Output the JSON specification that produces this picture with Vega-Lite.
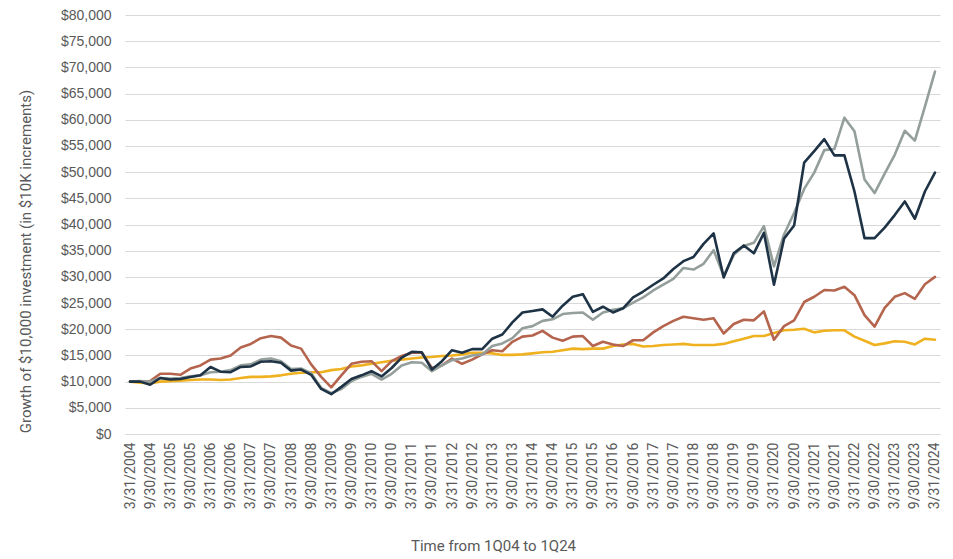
{
  "$schema": "https://vega.github.io/schema/vega-lite/v6.json",
  "width": 815,
  "height": 419,
  "autosize": {"type": "none"},
  "padding": {"left": 125, "top": 15, "right": 13, "bottom": 125},
  "background": "white",
  "datasets": {
    "dates": ["3/31/2004","6/30/2004","9/30/2004","12/31/2004","3/31/2005","6/30/2005","9/30/2005","12/31/2005","3/31/2006","6/30/2006","9/30/2006","12/31/2006","3/31/2007","6/30/2007","9/30/2007","12/31/2007","3/31/2008","6/30/2008","9/30/2008","12/31/2008","3/31/2009","6/30/2009","9/30/2009","12/31/2009","3/31/2010","6/30/2010","9/30/2010","12/31/2010","3/31/2011","6/30/2011","9/30/2011","12/31/2011","3/31/2012","6/30/2012","9/30/2012","12/31/2012","3/31/2013","6/30/2013","9/30/2013","12/31/2013","3/31/2014","6/30/2014","9/30/2014","12/31/2014","3/31/2015","6/30/2015","9/30/2015","12/31/2015","3/31/2016","6/30/2016","9/30/2016","12/31/2016","3/31/2017","6/30/2017","9/30/2017","12/31/2017","3/31/2018","6/30/2018","9/30/2018","12/31/2018","3/31/2019","6/30/2019","9/30/2019","12/31/2019","3/31/2020","6/30/2020","9/30/2020","12/31/2020","3/31/2021","6/30/2021","9/30/2021","12/31/2021","3/31/2022","6/30/2022","9/30/2022","12/31/2022","3/31/2023","6/30/2023","9/30/2023","12/31/2023","3/31/2024"]
  },
  "data": {
    "values": [
      {"date":"3/31/2004","series":"Series 4","value":10000},{"date":"6/30/2004","series":"Series 4","value":9800},{"date":"9/30/2004","series":"Series 4","value":9700},{"date":"12/31/2004","series":"Series 4","value":10000},
      {"date":"3/31/2005","series":"Series 4","value":10100},{"date":"6/30/2005","series":"Series 4","value":10200},{"date":"9/30/2005","series":"Series 4","value":10300},{"date":"12/31/2005","series":"Series 4","value":10400},
      {"date":"3/31/2006","series":"Series 4","value":10400},{"date":"6/30/2006","series":"Series 4","value":10300},{"date":"9/30/2006","series":"Series 4","value":10400},{"date":"12/31/2006","series":"Series 4","value":10700},
      {"date":"3/31/2007","series":"Series 4","value":10900},{"date":"6/30/2007","series":"Series 4","value":10900},{"date":"9/30/2007","series":"Series 4","value":11000},{"date":"12/31/2007","series":"Series 4","value":11200},
      {"date":"3/31/2008","series":"Series 4","value":11500},{"date":"6/30/2008","series":"Series 4","value":11700},{"date":"9/30/2008","series":"Series 4","value":11800},{"date":"12/31/2008","series":"Series 4","value":11800},
      {"date":"3/31/2009","series":"Series 4","value":12200},{"date":"6/30/2009","series":"Series 4","value":12400},{"date":"9/30/2009","series":"Series 4","value":12900},{"date":"12/31/2009","series":"Series 4","value":13100},
      {"date":"3/31/2010","series":"Series 4","value":13400},{"date":"6/30/2010","series":"Series 4","value":13700},{"date":"9/30/2010","series":"Series 4","value":14000},{"date":"12/31/2010","series":"Series 4","value":14200},
      {"date":"3/31/2011","series":"Series 4","value":14400},{"date":"6/30/2011","series":"Series 4","value":14600},{"date":"9/30/2011","series":"Series 4","value":14700},{"date":"12/31/2011","series":"Series 4","value":14900},
      {"date":"3/31/2012","series":"Series 4","value":15000},{"date":"6/30/2012","series":"Series 4","value":15200},{"date":"9/30/2012","series":"Series 4","value":15500},{"date":"12/31/2012","series":"Series 4","value":15500},
      {"date":"3/31/2013","series":"Series 4","value":15400},{"date":"6/30/2013","series":"Series 4","value":15100},{"date":"9/30/2013","series":"Series 4","value":15100},{"date":"12/31/2013","series":"Series 4","value":15200},
      {"date":"3/31/2014","series":"Series 4","value":15400},{"date":"6/30/2014","series":"Series 4","value":15600},{"date":"9/30/2014","series":"Series 4","value":15700},{"date":"12/31/2014","series":"Series 4","value":16000},
      {"date":"3/31/2015","series":"Series 4","value":16300},{"date":"6/30/2015","series":"Series 4","value":16200},{"date":"9/30/2015","series":"Series 4","value":16300},{"date":"12/31/2015","series":"Series 4","value":16300},
      {"date":"3/31/2016","series":"Series 4","value":16800},{"date":"6/30/2016","series":"Series 4","value":17100},{"date":"9/30/2016","series":"Series 4","value":17200},{"date":"12/31/2016","series":"Series 4","value":16700},
      {"date":"3/31/2017","series":"Series 4","value":16800},{"date":"6/30/2017","series":"Series 4","value":17000},{"date":"9/30/2017","series":"Series 4","value":17100},{"date":"12/31/2017","series":"Series 4","value":17200},
      {"date":"3/31/2018","series":"Series 4","value":17000},{"date":"6/30/2018","series":"Series 4","value":17000},{"date":"9/30/2018","series":"Series 4","value":17000},{"date":"12/31/2018","series":"Series 4","value":17200},
      {"date":"3/31/2019","series":"Series 4","value":17700},{"date":"6/30/2019","series":"Series 4","value":18200},{"date":"9/30/2019","series":"Series 4","value":18700},{"date":"12/31/2019","series":"Series 4","value":18700},
      {"date":"3/31/2020","series":"Series 4","value":19300},{"date":"6/30/2020","series":"Series 4","value":19800},{"date":"9/30/2020","series":"Series 4","value":19900},{"date":"12/31/2020","series":"Series 4","value":20100},
      {"date":"3/31/2021","series":"Series 4","value":19400},{"date":"6/30/2021","series":"Series 4","value":19700},{"date":"9/30/2021","series":"Series 4","value":19800},{"date":"12/31/2021","series":"Series 4","value":19800},
      {"date":"3/31/2022","series":"Series 4","value":18600},{"date":"6/30/2022","series":"Series 4","value":17800},{"date":"9/30/2022","series":"Series 4","value":17000},{"date":"12/31/2022","series":"Series 4","value":17300},
      {"date":"3/31/2023","series":"Series 4","value":17700},{"date":"6/30/2023","series":"Series 4","value":17600},{"date":"9/30/2023","series":"Series 4","value":17100},{"date":"12/31/2023","series":"Series 4","value":18200},
      {"date":"3/31/2024","series":"Series 4","value":18000},

      {"date":"3/31/2004","series":"Series 3","value":10000},{"date":"6/30/2004","series":"Series 3","value":10000},{"date":"9/30/2004","series":"Series 3","value":10100},{"date":"12/31/2004","series":"Series 3","value":11500},
      {"date":"3/31/2005","series":"Series 3","value":11500},{"date":"6/30/2005","series":"Series 3","value":11300},{"date":"9/30/2005","series":"Series 3","value":12500},{"date":"12/31/2005","series":"Series 3","value":13100},
      {"date":"3/31/2006","series":"Series 3","value":14200},{"date":"6/30/2006","series":"Series 3","value":14400},{"date":"9/30/2006","series":"Series 3","value":15000},{"date":"12/31/2006","series":"Series 3","value":16500},
      {"date":"3/31/2007","series":"Series 3","value":17200},{"date":"6/30/2007","series":"Series 3","value":18300},{"date":"9/30/2007","series":"Series 3","value":18700},{"date":"12/31/2007","series":"Series 3","value":18400},
      {"date":"3/31/2008","series":"Series 3","value":16900},{"date":"6/30/2008","series":"Series 3","value":16300},{"date":"9/30/2008","series":"Series 3","value":13300},{"date":"12/31/2008","series":"Series 3","value":10900},
      {"date":"3/31/2009","series":"Series 3","value":8900},{"date":"6/30/2009","series":"Series 3","value":11200},{"date":"9/30/2009","series":"Series 3","value":13400},{"date":"12/31/2009","series":"Series 3","value":13800},
      {"date":"3/31/2010","series":"Series 3","value":13900},{"date":"6/30/2010","series":"Series 3","value":12000},{"date":"9/30/2010","series":"Series 3","value":13900},{"date":"12/31/2010","series":"Series 3","value":14900},
      {"date":"3/31/2011","series":"Series 3","value":15500},{"date":"6/30/2011","series":"Series 3","value":15500},{"date":"9/30/2011","series":"Series 3","value":12600},{"date":"12/31/2011","series":"Series 3","value":13100},
      {"date":"3/31/2012","series":"Series 3","value":14400},{"date":"6/30/2012","series":"Series 3","value":13400},{"date":"9/30/2012","series":"Series 3","value":14200},{"date":"12/31/2012","series":"Series 3","value":15200},
      {"date":"3/31/2013","series":"Series 3","value":16000},{"date":"6/30/2013","series":"Series 3","value":15800},{"date":"9/30/2013","series":"Series 3","value":17600},{"date":"12/31/2013","series":"Series 3","value":18600},
      {"date":"3/31/2014","series":"Series 3","value":18800},{"date":"6/30/2014","series":"Series 3","value":19700},{"date":"9/30/2014","series":"Series 3","value":18400},{"date":"12/31/2014","series":"Series 3","value":17800},
      {"date":"3/31/2015","series":"Series 3","value":18600},{"date":"6/30/2015","series":"Series 3","value":18700},{"date":"9/30/2015","series":"Series 3","value":16800},{"date":"12/31/2015","series":"Series 3","value":17600},
      {"date":"3/31/2016","series":"Series 3","value":17100},{"date":"6/30/2016","series":"Series 3","value":16800},{"date":"9/30/2016","series":"Series 3","value":17900},{"date":"12/31/2016","series":"Series 3","value":17900},
      {"date":"3/31/2017","series":"Series 3","value":19400},{"date":"6/30/2017","series":"Series 3","value":20600},{"date":"9/30/2017","series":"Series 3","value":21600},{"date":"12/31/2017","series":"Series 3","value":22400},
      {"date":"3/31/2018","series":"Series 3","value":22100},{"date":"6/30/2018","series":"Series 3","value":21800},{"date":"9/30/2018","series":"Series 3","value":22100},{"date":"12/31/2018","series":"Series 3","value":19200},
      {"date":"3/31/2019","series":"Series 3","value":21000},{"date":"6/30/2019","series":"Series 3","value":21800},{"date":"9/30/2019","series":"Series 3","value":21700},{"date":"12/31/2019","series":"Series 3","value":23400},
      {"date":"3/31/2020","series":"Series 3","value":18000},{"date":"6/30/2020","series":"Series 3","value":20600},{"date":"9/30/2020","series":"Series 3","value":21700},{"date":"12/31/2020","series":"Series 3","value":25200},
      {"date":"3/31/2021","series":"Series 3","value":26200},{"date":"6/30/2021","series":"Series 3","value":27500},{"date":"9/30/2021","series":"Series 3","value":27400},{"date":"12/31/2021","series":"Series 3","value":28100},
      {"date":"3/31/2022","series":"Series 3","value":26500},{"date":"6/30/2022","series":"Series 3","value":22700},{"date":"9/30/2022","series":"Series 3","value":20500},{"date":"12/31/2022","series":"Series 3","value":24100},
      {"date":"3/31/2023","series":"Series 3","value":26200},{"date":"6/30/2023","series":"Series 3","value":26900},{"date":"9/30/2023","series":"Series 3","value":25800},{"date":"12/31/2023","series":"Series 3","value":28600},
      {"date":"3/31/2024","series":"Series 3","value":30000},

      {"date":"3/31/2004","series":"Series 2","value":10000},{"date":"6/30/2004","series":"Series 2","value":10100},{"date":"9/30/2004","series":"Series 2","value":10000},{"date":"12/31/2004","series":"Series 2","value":10700},
      {"date":"3/31/2005","series":"Series 2","value":10600},{"date":"6/30/2005","series":"Series 2","value":10700},{"date":"9/30/2005","series":"Series 2","value":11000},{"date":"12/31/2005","series":"Series 2","value":11200},
      {"date":"3/31/2006","series":"Series 2","value":11800},{"date":"6/30/2006","series":"Series 2","value":11900},{"date":"9/30/2006","series":"Series 2","value":12200},{"date":"12/31/2006","series":"Series 2","value":13100},
      {"date":"3/31/2007","series":"Series 2","value":13300},{"date":"6/30/2007","series":"Series 2","value":14200},{"date":"9/30/2007","series":"Series 2","value":14400},{"date":"12/31/2007","series":"Series 2","value":13900},
      {"date":"3/31/2008","series":"Series 2","value":12400},{"date":"6/30/2008","series":"Series 2","value":12500},{"date":"9/30/2008","series":"Series 2","value":11600},{"date":"12/31/2008","series":"Series 2","value":8800},
      {"date":"3/31/2009","series":"Series 2","value":7800},{"date":"6/30/2009","series":"Series 2","value":8600},{"date":"9/30/2009","series":"Series 2","value":10100},{"date":"12/31/2009","series":"Series 2","value":10900},
      {"date":"3/31/2010","series":"Series 2","value":11500},{"date":"6/30/2010","series":"Series 2","value":10400},{"date":"9/30/2010","series":"Series 2","value":11500},{"date":"12/31/2010","series":"Series 2","value":13100},
      {"date":"3/31/2011","series":"Series 2","value":13700},{"date":"6/30/2011","series":"Series 2","value":13600},{"date":"9/30/2011","series":"Series 2","value":12000},{"date":"12/31/2011","series":"Series 2","value":13100},
      {"date":"3/31/2012","series":"Series 2","value":14100},{"date":"6/30/2012","series":"Series 2","value":14400},{"date":"9/30/2012","series":"Series 2","value":15000},{"date":"12/31/2012","series":"Series 2","value":15200},
      {"date":"3/31/2013","series":"Series 2","value":16800},{"date":"6/30/2013","series":"Series 2","value":17300},{"date":"9/30/2013","series":"Series 2","value":18300},{"date":"12/31/2013","series":"Series 2","value":20200},
      {"date":"3/31/2014","series":"Series 2","value":20600},{"date":"6/30/2014","series":"Series 2","value":21600},{"date":"9/30/2014","series":"Series 2","value":21900},{"date":"12/31/2014","series":"Series 2","value":22900},
      {"date":"3/31/2015","series":"Series 2","value":23100},{"date":"6/30/2015","series":"Series 2","value":23200},{"date":"9/30/2015","series":"Series 2","value":21800},{"date":"12/31/2015","series":"Series 2","value":23200},
      {"date":"3/31/2016","series":"Series 2","value":23700},{"date":"6/30/2016","series":"Series 2","value":24000},{"date":"9/30/2016","series":"Series 2","value":25100},{"date":"12/31/2016","series":"Series 2","value":26100},
      {"date":"3/31/2017","series":"Series 2","value":27400},{"date":"6/30/2017","series":"Series 2","value":28500},{"date":"9/30/2017","series":"Series 2","value":29600},{"date":"12/31/2017","series":"Series 2","value":31700},
      {"date":"3/31/2018","series":"Series 2","value":31400},{"date":"6/30/2018","series":"Series 2","value":32500},{"date":"9/30/2018","series":"Series 2","value":35100},{"date":"12/31/2018","series":"Series 2","value":30200},
      {"date":"3/31/2019","series":"Series 2","value":34200},{"date":"6/30/2019","series":"Series 2","value":35900},{"date":"9/30/2019","series":"Series 2","value":36500},{"date":"12/31/2019","series":"Series 2","value":39700},
      {"date":"3/31/2020","series":"Series 2","value":32000},{"date":"6/30/2020","series":"Series 2","value":38100},{"date":"9/30/2020","series":"Series 2","value":42200},{"date":"12/31/2020","series":"Series 2","value":46800},
      {"date":"3/31/2021","series":"Series 2","value":49900},{"date":"6/30/2021","series":"Series 2","value":54200},{"date":"9/30/2021","series":"Series 2","value":54400},{"date":"12/31/2021","series":"Series 2","value":60400},
      {"date":"3/31/2022","series":"Series 2","value":57800},{"date":"6/30/2022","series":"Series 2","value":48600},{"date":"9/30/2022","series":"Series 2","value":46000},{"date":"12/31/2022","series":"Series 2","value":49700},
      {"date":"3/31/2023","series":"Series 2","value":53300},{"date":"6/30/2023","series":"Series 2","value":57900},{"date":"9/30/2023","series":"Series 2","value":56000},{"date":"12/31/2023","series":"Series 2","value":62500},
      {"date":"3/31/2024","series":"Series 2","value":69200},

      {"date":"3/31/2004","series":"Series 1","value":10000},{"date":"6/30/2004","series":"Series 1","value":10000},{"date":"9/30/2004","series":"Series 1","value":9400},{"date":"12/31/2004","series":"Series 1","value":10700},
      {"date":"3/31/2005","series":"Series 1","value":10400},{"date":"6/30/2005","series":"Series 1","value":10500},{"date":"9/30/2005","series":"Series 1","value":10900},{"date":"12/31/2005","series":"Series 1","value":11200},
      {"date":"3/31/2006","series":"Series 1","value":12800},{"date":"6/30/2006","series":"Series 1","value":11900},{"date":"9/30/2006","series":"Series 1","value":11800},{"date":"12/31/2006","series":"Series 1","value":12800},
      {"date":"3/31/2007","series":"Series 1","value":12900},{"date":"6/30/2007","series":"Series 1","value":13800},{"date":"9/30/2007","series":"Series 1","value":13900},{"date":"12/31/2007","series":"Series 1","value":13600},
      {"date":"3/31/2008","series":"Series 1","value":12100},{"date":"6/30/2008","series":"Series 1","value":12300},{"date":"9/30/2008","series":"Series 1","value":11300},{"date":"12/31/2008","series":"Series 1","value":8600},
      {"date":"3/31/2009","series":"Series 1","value":7600},{"date":"6/30/2009","series":"Series 1","value":9000},{"date":"9/30/2009","series":"Series 1","value":10500},{"date":"12/31/2009","series":"Series 1","value":11200},
      {"date":"3/31/2010","series":"Series 1","value":12000},{"date":"6/30/2010","series":"Series 1","value":11000},{"date":"9/30/2010","series":"Series 1","value":12600},{"date":"12/31/2010","series":"Series 1","value":14600},
      {"date":"3/31/2011","series":"Series 1","value":15700},{"date":"6/30/2011","series":"Series 1","value":15600},{"date":"9/30/2011","series":"Series 1","value":12300},{"date":"12/31/2011","series":"Series 1","value":13900},
      {"date":"3/31/2012","series":"Series 1","value":16000},{"date":"6/30/2012","series":"Series 1","value":15500},{"date":"9/30/2012","series":"Series 1","value":16200},{"date":"12/31/2012","series":"Series 1","value":16200},
      {"date":"3/31/2013","series":"Series 1","value":18200},{"date":"6/30/2013","series":"Series 1","value":19000},{"date":"9/30/2013","series":"Series 1","value":21300},{"date":"12/31/2013","series":"Series 1","value":23200},
      {"date":"3/31/2014","series":"Series 1","value":23500},{"date":"6/30/2014","series":"Series 1","value":23800},{"date":"9/30/2014","series":"Series 1","value":22400},{"date":"12/31/2014","series":"Series 1","value":24500},
      {"date":"3/31/2015","series":"Series 1","value":26200},{"date":"6/30/2015","series":"Series 1","value":26700},{"date":"9/30/2015","series":"Series 1","value":23300},{"date":"12/31/2015","series":"Series 1","value":24300},
      {"date":"3/31/2016","series":"Series 1","value":23200},{"date":"6/30/2016","series":"Series 1","value":24000},{"date":"9/30/2016","series":"Series 1","value":26100},{"date":"12/31/2016","series":"Series 1","value":27200},
      {"date":"3/31/2017","series":"Series 1","value":28500},{"date":"6/30/2017","series":"Series 1","value":29700},{"date":"9/30/2017","series":"Series 1","value":31500},{"date":"12/31/2017","series":"Series 1","value":33000},
      {"date":"3/31/2018","series":"Series 1","value":33800},{"date":"6/30/2018","series":"Series 1","value":36300},{"date":"9/30/2018","series":"Series 1","value":38300},{"date":"12/31/2018","series":"Series 1","value":29900},
      {"date":"3/31/2019","series":"Series 1","value":34500},{"date":"6/30/2019","series":"Series 1","value":36000},{"date":"9/30/2019","series":"Series 1","value":34500},{"date":"12/31/2019","series":"Series 1","value":38400},
      {"date":"3/31/2020","series":"Series 1","value":28500},{"date":"6/30/2020","series":"Series 1","value":37300},{"date":"9/30/2020","series":"Series 1","value":39800},{"date":"12/31/2020","series":"Series 1","value":51800},
      {"date":"3/31/2021","series":"Series 1","value":54000},{"date":"6/30/2021","series":"Series 1","value":56300},{"date":"9/30/2021","series":"Series 1","value":53200},{"date":"12/31/2021","series":"Series 1","value":53200},
      {"date":"3/31/2022","series":"Series 1","value":46300},{"date":"6/30/2022","series":"Series 1","value":37400},{"date":"9/30/2022","series":"Series 1","value":37400},{"date":"12/31/2022","series":"Series 1","value":39400},
      {"date":"3/31/2023","series":"Series 1","value":41800},{"date":"6/30/2023","series":"Series 1","value":44400},{"date":"9/30/2023","series":"Series 1","value":41100},{"date":"12/31/2023","series":"Series 1","value":46300},
      {"date":"3/31/2024","series":"Series 1","value":49900}
    ]
  },
  "mark": {"type": "line", "strokeWidth": 2.6, "strokeJoin": "round", "strokeCap": "round"},
  "encoding": {
    "x": {
      "field": "date",
      "type": "ordinal",
      "sort": null,
      "scale": {"type": "point", "padding": 0.5},
      "axis": {
        "title": "Time from 1Q04 to 1Q24",
        "titleFont": "Roboto",
        "titleFontSize": 15,
        "titleFontWeight": "normal",
        "titleColor": "#595959",
        "titleX": 368,
        "titleY": 104,
        "titleBaseline": "top",
        "values": ["3/31/2004","9/30/2004","3/31/2005","9/30/2005","3/31/2006","9/30/2006","3/31/2007","9/30/2007","3/31/2008","9/30/2008","3/31/2009","9/30/2009","3/31/2010","9/30/2010","3/31/2011","9/30/2011","3/31/2012","9/30/2012","3/31/2013","9/30/2013","3/31/2014","9/30/2014","3/31/2015","9/30/2015","3/31/2016","9/30/2016","3/31/2017","9/30/2017","3/31/2018","9/30/2018","3/31/2019","9/30/2019","3/31/2020","9/30/2020","3/31/2021","9/30/2021","3/31/2022","9/30/2022","3/31/2023","9/30/2023","3/31/2024"],
        "labelAngle": -90,
        "labelFont": "Roboto",
        "labelFontSize": 14,
        "labelColor": "#595959",
        "labelPadding": 8,
        "ticks": false,
        "domain": true,
        "domainColor": "#d9d9d9",
        "grid": false
      }
    },
    "y": {
      "field": "value",
      "type": "quantitative",
      "scale": {"domain": [0, 80000], "nice": false},
      "axis": {
        "title": "Growth of $10,000 investment (in $10K increments)",
        "titleFont": "Roboto",
        "titleFontSize": 15,
        "titleFontWeight": "normal",
        "titleColor": "#595959",
        "titleX": -100,
        "titleY": 246,
        "titleAngle": -90,
        "titleBaseline": "middle",
        "titleAlign": "center",
        "values": [0,5000,10000,15000,20000,25000,30000,35000,40000,45000,50000,55000,60000,65000,70000,75000,80000],
        "format": "$,.0f",
        "labelFont": "Liberation Sans",
        "labelFontSize": 14,
        "labelColor": "#595959",
        "labelPadding": 14,
        "ticks": false,
        "domain": false,
        "grid": true,
        "gridColor": "#d9d9d9",
        "gridWidth": 1
      }
    },
    "color": {
      "field": "series",
      "type": "nominal",
      "scale": {
        "domain": ["Series 1", "Series 2", "Series 3", "Series 4"],
        "range": ["#1f3346", "#949f9b", "#b5654e", "#efb11f"]
      },
      "legend": null
    }
  },
  "config": {"view": {"stroke": null}}
}
